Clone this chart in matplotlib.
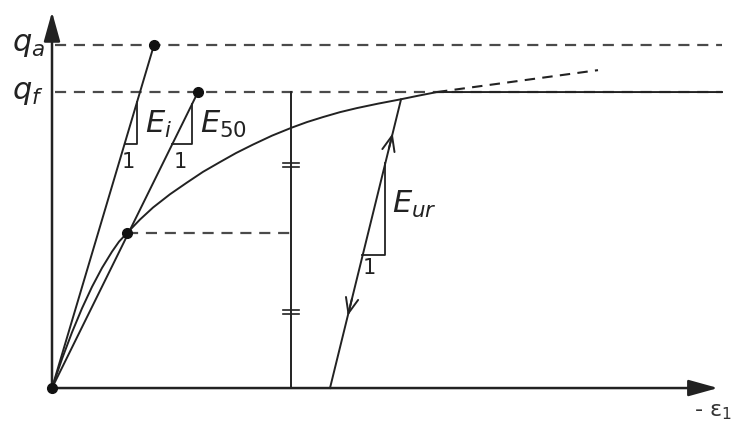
import numpy as np
import matplotlib.pyplot as plt

plt.rcParams['mathtext.fontset'] = 'dejavusans'

# Stress-strain curve (strain in arbitrary units, q / q_f)
curve_eps = [0.00, 0.10, 0.20, 0.30, 0.40, 0.50, 0.60, 0.67, 0.75, 0.88, 1.01,
             1.18, 1.35, 1.51, 1.68, 1.84, 2.01, 2.20, 2.40, 2.55, 2.71, 2.88,
             3.05, 3.26, 3.48, 3.66, 3.85, 6.70]
curve_q = [0.0000, 0.0983, 0.1882, 0.2693, 0.3419, 0.4057, 0.4608, 0.4946, 0.5236,
           0.5693, 0.6098, 0.6547, 0.6943, 0.7304, 0.7635, 0.7939, 0.8226, 0.8527,
           0.8801, 0.8986, 0.9155, 0.9321, 0.9459, 0.9608, 0.9750, 0.9875, 1.0, 1.0]

# Levels
q_f = 1.0
q_a = 1.159
q_half = 0.524

# Stiffness lines: start and end points
ei_eps = [0.0, 1.02]
ei_q = [0.0, q_a]
e50_eps = [0.0, 1.46]
e50_q = [0.0, q_f]
eur_eps = [2.78, 3.49]
eur_q = [0.0, 0.975]

# Asymptote (dashed) beyond failure
asym_eps = [3.85, 5.46]
asym_q = [1.0, 1.074]

# Vertical marker line with equal-length ticks
vline_eps = 2.39
tick_q = [0.257, 0.753]

# Slope triangles: (eps on line at bottom, eps of vertical leg, q bottom, q top)
triangles = [
    (0.725, 0.85, 0.824, 0.966),
    (1.203, 1.40, 0.824, 0.959),
    (3.10, 3.33, 0.449, 0.760),
]
tri_one = [(0.76, 0.764), (1.28, 0.764), (3.17, 0.405)]

col = '#222222'
dcol = '#4a4a4a'
dash = (0, (5, 3.5))

fig = plt.figure(figsize=(7.39, 4.28), dpi=100)
ax = fig.add_axes([0, 0, 1, 1])
ax.set_xlim(-0.52, 6.87)
ax.set_ylim(-0.135, 1.311)
ax.axis('off')

# dashed reference levels
ax.plot([0.03, 6.70], [q_a, q_a], color=dcol, lw=1.6, ls=dash)
ax.plot([0.03, 6.70], [q_f, q_f], color=dcol, lw=1.6, ls=dash)
ax.plot([0.75, vline_eps], [q_half, q_half], color=dcol, lw=1.6, ls=dash)
ax.plot(asym_eps, asym_q, color=col, lw=1.5, ls=dash)

# main curve and stiffness lines
ax.plot(curve_eps, curve_q, color=col, lw=1.4, solid_joinstyle='round')
ax.plot(ei_eps, ei_q, color=col, lw=1.4)
ax.plot(e50_eps, e50_q, color=col, lw=1.4)
ax.plot(eur_eps, eur_q, color=col, lw=1.4)

# dots
ax.plot([0.0, ei_eps[1], e50_eps[1], 0.75], [0.0, q_a, q_f, q_half], 'o',
        color='#111111', ms=7, zorder=5)

# vertical line with "=" ticks
ax.plot([vline_eps, vline_eps], [0, q_f], color=col, lw=1.4)
for tq in tick_q:
    for off in (-0.007, 0.007):
        ax.plot([vline_eps - 0.08, vline_eps + 0.08], [tq + off, tq + off], color=col, lw=1.2)

# slope triangles
for (e0, e1, qb, qt), (ox, oy) in zip(triangles, tri_one):
    ax.plot([e0, e1, e1], [qb, qb, qt], color=col, lw=1.3)
    ax.text(ox, oy, '1', fontsize=15, ha='center', va='center', color=col)

# arrows on the unload/reload line
chevron = dict(arrowstyle='->,head_length=1.1,head_width=0.45', color=col, lw=1.4)
ax.annotate('', xy=(2.78 + 0.71 * 0.87 / 0.975, 0.87),
            xytext=(2.78 + 0.71 * 0.80 / 0.975, 0.80), arrowprops=chevron)
ax.annotate('', xy=(2.78 + 0.71 * 0.235 / 0.975, 0.235),
            xytext=(2.78 + 0.71 * 0.31 / 0.975, 0.31), arrowprops=chevron)

# axes with arrow heads
axis_arrow = dict(arrowstyle='-|>,head_length=0.9,head_width=0.25', color=col, lw=1.8,
                  shrinkA=0, shrinkB=0, mutation_scale=20)
ax.annotate('', xy=(0, 1.271), xytext=(0, 0), arrowprops=axis_arrow)
ax.annotate('', xy=(6.66, 0), xytext=(0, 0), arrowprops=axis_arrow)

# labels
ax.text(-0.40, q_a, r'$q_a$', fontsize=22, ha='left', va='center', color='#222222')
ax.text(-0.40, q_f, r'$q_f$', fontsize=22, ha='left', va='center', color='#222222')
ax.text(0.93, 0.89, r'$E_i$', fontsize=22, ha='left', va='center', color='#222222')
ax.text(1.48, 0.89, r'$E_{\mathrm{50}}$', fontsize=22, ha='left', va='center', color='#222222')
ax.text(3.40, 0.62, r'$E_{ur}$', fontsize=22, ha='left', va='center', color='#222222')
ax.text(6.42, -0.08, r'- ε$_{\mathrm{1}}$', fontsize=16, ha='left', va='center', color='#333333')

fig.savefig('out.png', dpi=100)
